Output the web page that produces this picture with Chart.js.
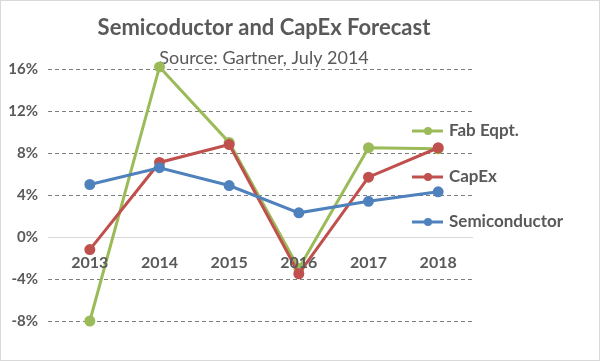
<!DOCTYPE html>
<html>
<head>
<meta charset="utf-8">
<script src="https://cdn.jsdelivr.net/npm/chart.js@4/dist/chart.umd.min.js"></script>
<style>
  html, body { margin: 0; padding: 0; background: #fff; }
  #wrap { width: 600px; height: 361px; box-sizing: border-box; border: 1px solid #d9d9d9; }
</style>
</head>
<body>
<div id="wrap"><canvas id="chart"></canvas></div>
<script>
var years = ["2013", "2014", "2015", "2016", "2017", "2018"];
var semiconductor = [5.0, 6.6, 4.9, 2.3, 3.4, 4.3];
var capex = [-1.2, 7.1, 8.8, -3.5, 5.7, 8.5];
var fabEqpt = [-8.0, 16.2, 9.0, -3.0, 8.5, 8.4];
var yMin = -8, yMax = 16, yStep = 4;

var FONT = "Lato, 'Open Sans', sans-serif";
var GREY = "#595959";

function series(label, values, color) {
  return {
    label: label,
    data: values,
    borderColor: color,
    backgroundColor: color,
    borderWidth: 3,
    pointRadius: 4,
    pointHoverRadius: 4,
    tension: 0,
    clip: false,
  };
}

// legend sits inside the right padding, beside the line ends
var sideLegend = {
  id: "sideLegend",
  afterDraw: function (chart) {
    var ctx = chart.ctx;
    var rows = [
      { ds: 2, y: 130 },
      { ds: 1, y: 176 },
      { ds: 0, y: 221 },
    ];
    ctx.save();
    rows.forEach(function (r) {
      var d = chart.data.datasets[r.ds];
      ctx.strokeStyle = d.borderColor;
      ctx.fillStyle = d.borderColor;
      ctx.lineWidth = 3;
      ctx.beginPath();
      ctx.moveTo(411, r.y);
      ctx.lineTo(442, r.y);
      ctx.stroke();
      ctx.beginPath();
      ctx.arc(427, r.y, 4, 0, Math.PI * 2);
      ctx.fill();
      ctx.fillStyle = GREY;
      ctx.font = "bold 17px " + FONT;
      ctx.textBaseline = "middle";
      ctx.textAlign = "left";
      ctx.fillText(d.label, 448, r.y);
    });
    ctx.restore();
  },
};

new Chart(document.getElementById("chart"), {
  type: "line",
  data: {
    labels: years,
    datasets: [
      series("Semiconductor", semiconductor, "#4f81bd"),
      series("CapEx", capex, "#c0504d"),
      series("Fab Eqpt.", fabEqpt, "#9bbb59"),
    ],
  },
  options: {
    responsive: true,
    maintainAspectRatio: false,
    animation: false,
    layout: { padding: { top: 0, left: 0, right: 126, bottom: 39 } },
    plugins: {
      legend: { display: false },
      tooltip: { enabled: false },
      title: {
        display: true,
        fullSize: false,
        text: "Semicoductor and CapEx Forecast",
        color: GREY,
        font: { family: FONT, size: 22, weight: "bold" },
        padding: { top: 14, bottom: 0 },
      },
      subtitle: {
        display: true,
        fullSize: false,
        text: "Source: Gartner, July 2014",
        color: GREY,
        font: { family: FONT, size: 18, weight: "normal" },
        padding: { top: 6, bottom: 0 },
      },
    },
    scales: {
      x: {
        position: { y: 0 },
        offset: true,
        grid: { display: false, drawTicks: false },
        border: { display: false },
        ticks: {
          z: 1,
          color: GREY,
          padding: 16,
          font: { family: FONT, size: 16, weight: "bold" },
          maxRotation: 0,
        },
      },
      y: {
        min: yMin,
        max: yMax,
        afterFit: function (scale) { scale.width = 54; },
        ticks: {
          stepSize: yStep,
          color: GREY,
          padding: 10,
          font: { family: FONT, size: 15, weight: "bold" },
          callback: function (v) { return v + "%"; },
        },
        grid: {
          color: function (c) { return c.tick && c.tick.value === 0 ? "#d9d9d9" : "#7f7f7f"; },
          tickColor: function (c) { return c.tick && c.tick.value === 0 ? "#d9d9d9" : "#7f7f7f"; },
          lineWidth: 1,
          tickLength: 7,
          tickBorderDash: function (c) { return c.tick && c.tick.value === 0 ? [] : [4, 3]; },
        },
        border: {
          display: false,
          dash: function (c) { return c.tick && c.tick.value === 0 ? [] : [4, 3]; },
        },
      },
    },
  },
  plugins: [sideLegend],
});
</script>
</body>
</html>
